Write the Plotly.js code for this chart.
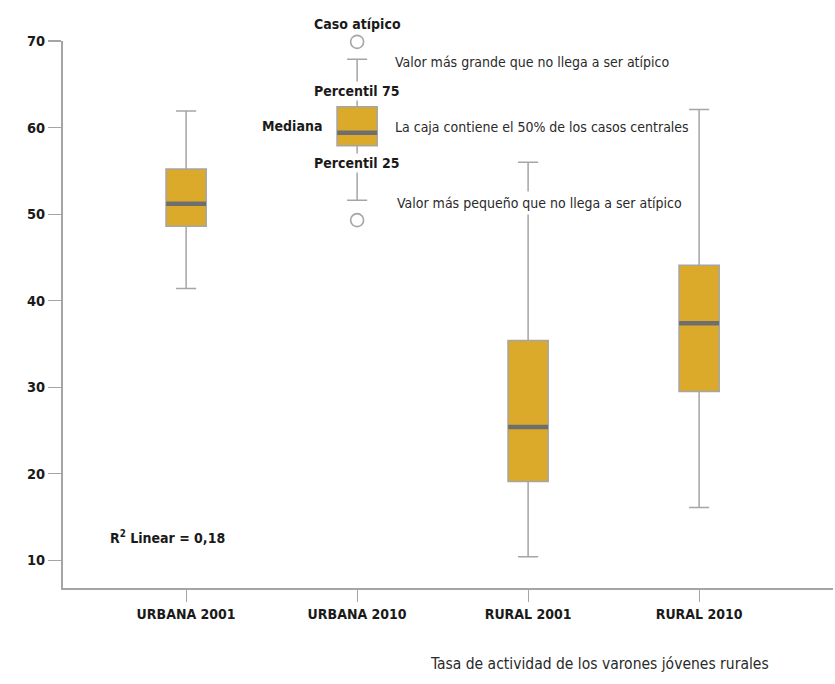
<!DOCTYPE html>
<html>
<head>
<meta charset="utf-8">
<script src="https://cdn.plot.ly/plotly-3.0.1.min.js"></script>
<style>
html,body{margin:0;padding:0;background:#fff;}
#chart{width:835px;height:684px;}
</style>
</head>
<body>
<div id="chart"></div>
<script>
// ---- data ----
var categories = ['URBANA 2001', 'URBANA 2010', 'RURAL 2001', 'RURAL 2010'];
var lowerWhisker = [41.4, 51.6, 10.4, 16.1];
var q1Values     = [48.6, 57.9, 19.1, 29.5];
var medianValues = [51.2, 59.4, 25.4, 37.4];
var q3Values     = [55.2, 62.4, 35.4, 44.1];
var upperWhisker = [61.9, 67.9, 56.0, 62.1];
var outlierCats  = ['URBANA 2010', 'URBANA 2010'];
var outlierVals  = [69.9, 49.3];
var yTickVals    = [10, 20, 30, 40, 50, 60, 70];

var legendLabels = {
  outlier: 'Caso atípico',
  p75: 'Percentil 75',
  median: 'Mediana',
  p25: 'Percentil 25',
  upper: 'Valor más grande que no llega a ser atípico',
  box: 'La caja contiene el 50% de los casos centrales',
  lower: 'Valor más pequeño que no llega a ser atípico',
  r2: 'R<sup>2</sup> Linear = 0,18',
  caption: 'Tasa de actividad de los varones jóvenes rurales'
};

// ---- styles ----
var FONT = "'DejaVu Sans Condensed', 'DejaVu Sans', sans-serif";
var GOLD = '#DBAA2A';
var GREY = '#a5a5a5';
var DARK = '#6e6e6e';
var TXT = '#1a1a1a';

var boxTrace = {
  type: 'box',
  x: categories,
  q1: q1Values,
  median: medianValues,
  q3: q3Values,
  lowerfence: lowerWhisker,
  upperfence: upperWhisker,
  width: 0.235,
  whiskerwidth: 0.5,
  fillcolor: GOLD,
  line: {color: GREY, width: 1.5},
  boxpoints: false,
  hoverinfo: 'skip'
};

var medianTrace = {
  type: 'scatter',
  mode: 'markers',
  x: categories,
  y: medianValues,
  marker: {symbol: 'line-ew', size: 28.5, line: {color: DARK, width: 4.5}},
  hoverinfo: 'skip'
};

var outlierTrace = {
  type: 'scatter',
  mode: 'markers',
  x: outlierCats,
  y: outlierVals,
  cliponaxis: false,
  marker: {symbol: 'circle', size: 13, color: '#ffffff', line: {color: GREY, width: 1.6}},
  hoverinfo: 'skip'
};

var refCat = categories[1];
function bold(){ return {family: FONT, size: 14, color: TXT, weight: 'bold'}; }
var normalFont = {family: FONT, size: 14, color: '#2a2a2a'};

var annotations = [
  {xref: 'x', yref: 'paper', x: refCat, y: 1.031, text: legendLabels.outlier, showarrow: false, xanchor: 'center', yanchor: 'middle', font: bold()},
  {xref: 'x', yref: 'y', x: refCat, y: q3Values[1] + 1.8, text: legendLabels.p75, showarrow: false, xanchor: 'center', yanchor: 'middle', font: bold(), bgcolor: '#ffffff', borderpad: 1},
  {xref: 'x', yref: 'y', x: refCat, xshift: -33, y: medianValues[1] + 0.75, text: legendLabels.median, showarrow: false, xanchor: 'right', yanchor: 'middle', font: bold()},
  {xref: 'x', yref: 'y', x: refCat, y: q1Values[1] - 2.05, text: legendLabels.p25, showarrow: false, xanchor: 'center', yanchor: 'middle', font: bold(), bgcolor: '#ffffff', borderpad: 1},
  {xref: 'x', yref: 'y', x: refCat, xshift: 36, y: upperWhisker[1] - 0.35, text: legendLabels.upper, showarrow: false, xanchor: 'left', yanchor: 'middle', font: normalFont, bgcolor: '#ffffff', borderpad: 1},
  {xref: 'x', yref: 'y', x: refCat, xshift: 36, y: medianValues[1] + 0.65, text: legendLabels.box, showarrow: false, xanchor: 'left', yanchor: 'middle', font: normalFont, bgcolor: '#ffffff', borderpad: 1},
  {xref: 'x', yref: 'y', x: refCat, xshift: 36, y: lowerWhisker[1] - 0.3, text: legendLabels.lower, showarrow: false, xanchor: 'left', yanchor: 'middle', font: normalFont, bgcolor: '#ffffff', borderpad: 3},
  {xref: 'paper', yref: 'y', x: 0.059, y: 12.7, text: legendLabels.r2, showarrow: false, xanchor: 'left', yanchor: 'middle', font: bold()},
  {xref: 'paper', yref: 'paper', x: 0.697, y: -0.139, text: legendLabels.caption, showarrow: false, xanchor: 'center', yanchor: 'middle', font: {family: FONT, size: 15.5, color: '#2a2a2a'}}
];

var layout = {
  width: 835,
  height: 684,
  margin: {l: 63, r: 2, t: 41, b: 96},
  paper_bgcolor: '#ffffff',
  plot_bgcolor: '#ffffff',
  showlegend: false,
  hovermode: false,
  font: {family: FONT, size: 14, color: TXT},
  xaxis: {
    type: 'category',
    range: [-0.72, 3.783],
    showgrid: false,
    zeroline: false,
    showline: true,
    linecolor: GREY,
    linewidth: 2,
    ticks: 'outside',
    ticklen: 12,
    tickwidth: 1,
    tickcolor: GREY,
    tickfont: {family: FONT, size: 14, color: TXT, weight: 'bold'},
    fixedrange: true
  },
  yaxis: {
    range: [6.8, 70],
    tickvals: yTickVals,
    showgrid: false,
    zeroline: false,
    showline: true,
    linecolor: GREY,
    linewidth: 2,
    ticks: 'outside',
    ticklen: 13,
    tickwidth: 1.2,
    tickcolor: GREY,
    tickfont: {family: FONT, size: 14.5, color: TXT, weight: 'bold'},
    fixedrange: true
  },
  annotations: annotations
};

Plotly.newPlot('chart', [boxTrace, medianTrace, outlierTrace], layout, {displayModeBar: false, staticPlot: true});
</script>
</body>
</html>
